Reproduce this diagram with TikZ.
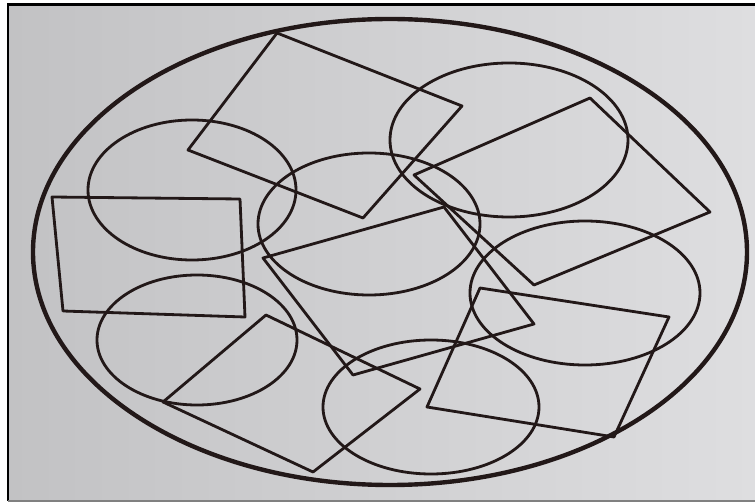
\documentclass[tikz,border=0pt]{standalone}
\usepackage{tikz}
\definecolor{ink}{RGB}{34,24,24}
\definecolor{paperL}{RGB}{194,194,196}
\definecolor{paperR}{RGB}{222,222,224}

\begin{document}
\begin{tikzpicture}[x=0.02cm, y=-0.02cm,
    outline/.style={draw=ink, line width=1.6pt, line join=round}]
  \useasboundingbox (0,0) rectangle (755,503);
  \fill[white] (0,0) rectangle (755,503);
  \shade[left color=paperL, right color=paperR] (8,4) rectangle (755,501);
  \draw[black, line width=1.2pt] (8,501) -- (8,4.5) -- (755,4.5);
  \draw[gray, line width=0.8pt] (8,501) -- (755,501);
  % outer ellipse
  \draw[ink, line width=2.5pt] (390,252) ellipse [x radius=357, y radius=233];
  % ellipses
  \draw[outline] (192,190) ellipse [x radius=104, y radius=70];
  \draw[outline] (369,224) ellipse [x radius=111, y radius=71];
  \draw[outline] (509,140) ellipse [x radius=119, y radius=77];
  \draw[outline] (585,293) ellipse [x radius=115, y radius=72];
  \draw[outline] (197,340) ellipse [x radius=100, y radius=65];
  \draw[outline] (431,407) ellipse [x radius=108, y radius=67];
  % rectangles
  \draw[outline] (277,33) -- (462,106) -- (363,218) -- (188,150) -- cycle;
  \draw[outline] (52,197) -- (240,199) -- (245,317) -- (63,311) -- cycle;
  \draw[outline] (590,98) -- (710,212) -- (534,285) -- (414,175) -- cycle;
  \draw[outline] (263,258) -- (444,207) -- (534,324) -- (353,375) -- cycle;
  \draw[outline] (266,315) -- (420,389) -- (313,472) -- (163,402) -- cycle;
  \draw[outline] (480,288) -- (669,317) -- (614,437) -- (427,407) -- cycle;
\end{tikzpicture}
\end{document}
